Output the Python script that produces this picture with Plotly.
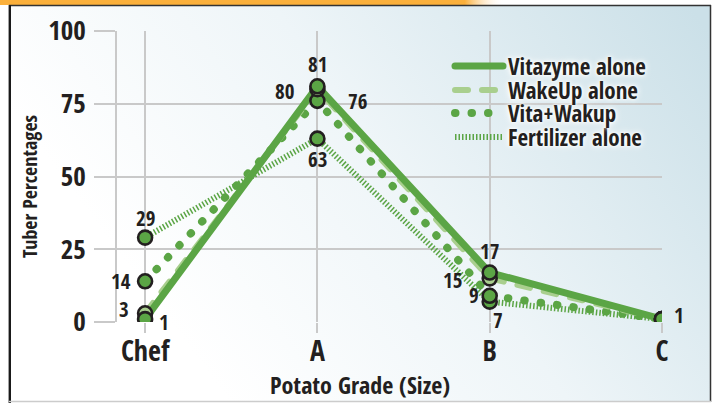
import base64
import plotly.graph_objects as go

# ---------------- data ----------------
grades = ["Chef", "A", "B", "C"]
series_names = ["Vitazyme alone", "WakeUp alone", "Vita+Wakup", "Fertilizer alone"]
vitazyme = [1, 81, 17, 1]
wakeup = [3, 80, 15, 1]
vita_wakup = [14, 76, 9, 1]
fertilizer = [29, 63, 7, 1]
y_ticks = [0, 25, 50, 75, 100]
x_title = "Potato Grade (Size)"
y_title = "Tuber Percentages"

# which points carry a value label
label_vitazyme = [True, True, True, True]
label_wakeup = [True, True, True, False]
label_vita_wakup = [True, True, True, False]
label_fertilizer = [True, True, True, False]

# ---------------- styles ----------------
FONT = "Open Sans Condensed, Roboto Condensed, sans-serif"
TXT = "#231f20"
GREEN = "#5ba545"
LIGHT = "#a9cf8e"
GRID = "#c9c9c9"

W, H = 715, 403
ML, MR, MT, MB = 117, 53, 31, 81
PW, PH = W - ML - MR, H - MT - MB


def px_to_py(ypx):
    return 1 - (ypx - MT) / PH


series = [
    dict(name=series_names[3], y=fertilizer, color=GREEN, width=6, dash="1.5px,2px",
         mfill=GREEN, labels=label_fertilizer, off=[(0, 20), (0, -20), (8, -18), (0, 0)],
         legend="legend4", ly=137),
    dict(name=series_names[2], y=vita_wakup, color=GREEN, width=8, dash="0.5px,16px",
         mfill=GREEN, labels=label_vita_wakup, off=[(-24, 0), (40, 0), (-16, 1), (0, 0)],
         legend="legend3", ly=113),
    dict(name=series_names[1], y=wakeup, color=LIGHT, width=6, dash="13px,14px",
         mfill=LIGHT, labels=label_wakeup, off=[(-21, 4), (-33, -2), (-37, -2), (0, 0)],
         legend="legend2", ly=90),
    dict(name=series_names[0], y=vitazyme, color=GREEN, width=7, dash="solid",
         mfill=GREEN, labels=label_vitazyme, off=[(19, -3), (0, 22), (0, 22), (17, 4)],
         legend="legend", ly=66),
]

fig = go.Figure()
for s in series:
    fig.add_trace(go.Scatter(
        x=grades, y=s["y"], name=s["name"], mode="lines",
        line=dict(color=s["color"], width=s["width"], dash=s["dash"]),
        legend=s["legend"], hoverinfo="skip",
    ))
for s in series:
    fig.add_trace(go.Scatter(
        x=grades, y=s["y"], mode="markers", showlegend=False, hoverinfo="skip",
        marker=dict(size=14, color=s["mfill"], line=dict(color=TXT, width=2.6)),
    ))

annotations = []
for s in series:
    for g, v, show, (dx, dy) in zip(grades, s["y"], s["labels"], s["off"]):
        if not show:
            continue
        annotations.append(dict(
            x=g, y=v, xref="x", yref="y", text=str(v), showarrow=False,
            xshift=dx, yshift=dy, font=dict(family=FONT, size=21, color=TXT, weight=700),
        ))

annotations.append(dict(
    x=(360 - ML) / PW, y=px_to_py(385), xref="paper", yref="paper",
    text=x_title, showarrow=False, xanchor="center", yanchor="middle",
    font=dict(family=FONT, size=24, color=TXT, weight=700),
))
annotations.append(dict(
    x=(29 - ML) / PW, y=px_to_py(187), xref="paper", yref="paper",
    text=y_title, showarrow=False, textangle=-90, xanchor="center", yanchor="middle",
    font=dict(family=FONT, size=20, color=TXT, weight=700),
))

# background panel (gradient, orange strip, frame) as an svg image
svg = f"""<svg xmlns='http://www.w3.org/2000/svg' width='{W}' height='{H}' viewBox='0 0 {W} {H}' preserveAspectRatio='none'>
<defs>
<linearGradient id='g' gradientUnits='userSpaceOnUse' x1='230' y1='403' x2='715' y2='40'>
<stop offset='0' stop-color='#ffffff'/><stop offset='0.45' stop-color='#eef5f8'/><stop offset='1' stop-color='#cbe0e8'/>
</linearGradient>
<linearGradient id='o' gradientUnits='userSpaceOnUse' x1='0' y1='0' x2='{W}' y2='0'>
<stop offset='0.65' stop-color='#fbb03b'/><stop offset='0.705' stop-color='#ffffff' stop-opacity='0'/>
</linearGradient>
</defs>
<rect x='0' y='0' width='{W}' height='{H}' fill='#ffffff'/>
<rect x='9' y='5' width='702' height='397' fill='url(#g)'/>
<rect x='0' y='0' width='{W}' height='5' fill='url(#o)'/>
<line x1='9' y1='5.5' x2='711' y2='5.5' stroke='#333333' stroke-width='1.5'/>
<line x1='9.8' y1='5' x2='9.8' y2='{H}' stroke='#1a1a1a' stroke-width='2.4'/>
<line x1='710.5' y1='5' x2='710.5' y2='402' stroke='#333333' stroke-width='1.5'/>
<line x1='9' y1='401.5' x2='711' y2='401.5' stroke='#cccccc' stroke-width='1.5'/>
</svg>"""
src = "data:image/svg+xml;base64," + base64.b64encode(svg.encode()).decode()

legend_font = dict(family=FONT, size=23, color=TXT, weight=700,
                   shadow="0px 0px 3px #ffffff, 0px 0px 5px #ffffff, 0px 0px 8px #ffffff")
legends = {}
for s in series:
    legends[s["legend"]] = dict(
        x=(450 - ML) / PW, y=px_to_py(s["ly"]), xanchor="left", yanchor="middle",
        bgcolor="rgba(0,0,0,0)", itemwidth=48, font=legend_font,
    )

fig.update_layout(
    width=W, height=H, autosize=False,
    margin=dict(l=ML, r=MR, t=MT, b=MB, pad=0),
    paper_bgcolor="#ffffff", plot_bgcolor="rgba(0,0,0,0)",
    images=[dict(source=src, xref="paper", yref="paper", x=-ML / PW, y=1 + MT / PH,
                 sizex=W / PW, sizey=H / PH, xanchor="left", yanchor="top",
                 sizing="stretch", layer="below")],
    xaxis=dict(
        type="category", categoryorder="array", categoryarray=grades,
        range=[-0.163, 3], showgrid=True, gridcolor=GRID, gridwidth=1.5,
        ticks="outside", ticklen=10, tickcolor=GRID, tickwidth=1.5,
        showline=False, zeroline=False, ticklabelstandoff=-6,
        tickfont=dict(family=FONT, size=28, color=TXT, weight=700),
    ),
    yaxis=dict(
        range=[0, 100], tickvals=y_ticks, showgrid=True, gridcolor=GRID, gridwidth=1.5,
        ticks="outside", ticklen=21, tickcolor=GRID, tickwidth=1.5,
        showline=True, linecolor=GRID, linewidth=1.5, zeroline=False, ticklabelstandoff=3,
        tickfont=dict(family=FONT, size=27, color=TXT, weight=700),
    ),
    annotations=annotations,
    showlegend=True,
    **legends,
)

post = (
    "document.body.style.margin='0';document.body.style.padding='0';"
    "document.querySelectorAll('.legendlines path, .scatterlayer path.js-line').forEach(function(p){"
    "var d=p.style.strokeDasharray||'';"
    "if(d.indexOf('1.5px')!==0){p.style.strokeLinecap='round';}});"
)

fig.write_html("out.html", post_script=post, config={"displayModeBar": False})
